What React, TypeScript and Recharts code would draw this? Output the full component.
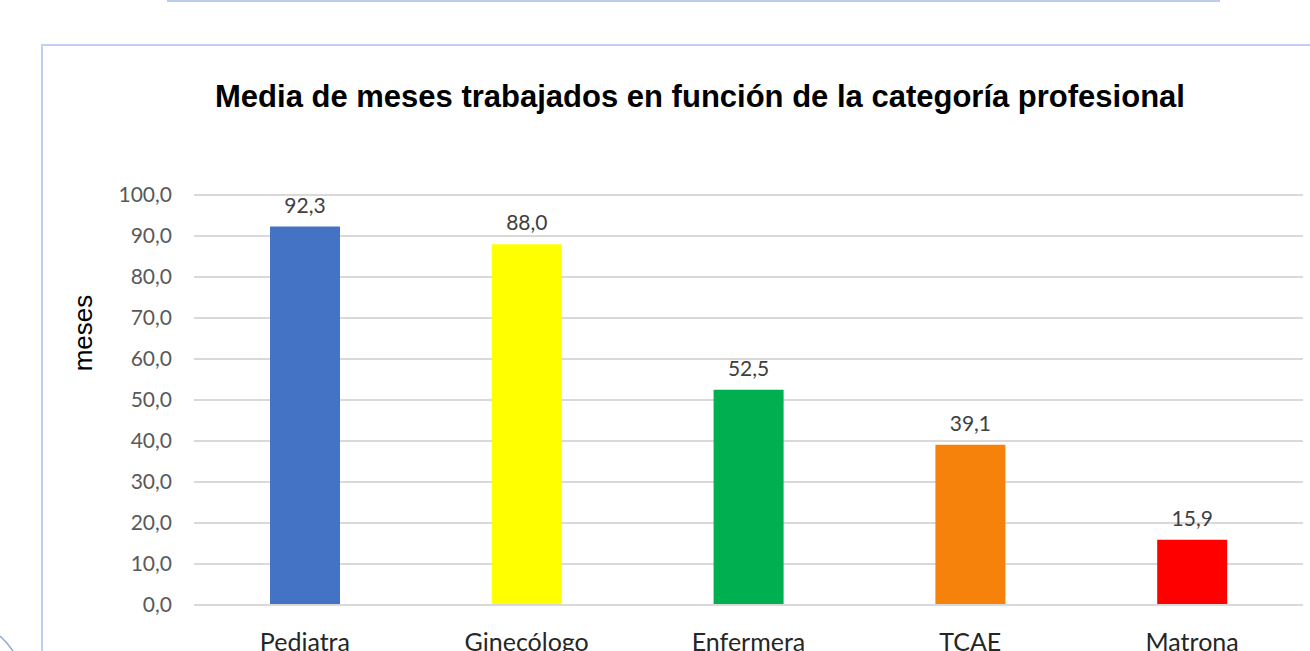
import { Bar, BarChart, CartesianGrid, Cell, LabelList, XAxis, YAxis } from 'recharts';

const categories = ['Pediatra', 'Ginecólogo', 'Enfermera', 'TCAE', 'Matrona'];
const values = [92.3, 88.0, 52.5, 39.1, 15.9];
const colors = ['#4472C4', '#FFFF00', '#00B050', '#F7820B', '#FF0000'];
const yTicks = [0, 10, 20, 30, 40, 50, 60, 70, 80, 90, 100];

const title = 'Media de meses trabajados en función de la categoría profesional';
const yLabel = 'meses';

const data = categories.map((name, i) => ({ name, value: values[i], color: colors[i] }));

const fmt = (v: number) => v.toFixed(1).replace('.', ',');
const bodyFont = 'Lato, "Open Sans", sans-serif';

export default function App() {
  return (
    <div style={{ position: 'absolute', left: 0, top: 0, width: 1310, height: 651, overflow: 'hidden', background: '#fff' }}>
      {/* frame above and chart box */}
      <div style={{ position: 'absolute', left: 167, top: 0, width: 1053, height: 2, background: '#bccdec' }} />
      <div
        style={{
          position: 'absolute',
          left: 41,
          top: 44,
          width: 1320,
          height: 700,
          borderLeft: '2px solid #c0d0ee',
          borderTop: '2px solid #c0d0ee',
        }}
      />
      <svg style={{ position: 'absolute', left: 0, top: 620 }} width={30} height={31}>
        <path d="M0,16 Q7,22 13,31" fill="none" stroke="#8ea6d6" strokeWidth={1.5} />
      </svg>

      <div
        style={{
          position: 'absolute',
          left: 0,
          width: 1400,
          top: 79,
          textAlign: 'center',
          font: 'bold 31px "Liberation Sans", Arial, sans-serif',
          color: '#000',
          whiteSpace: 'nowrap',
        }}
      >
        {title}
      </div>
      <div
        style={{
          position: 'absolute',
          left: 83,
          top: 333,
          transform: 'translate(-50%, -50%) rotate(-90deg)',
          font: '26px "Liberation Sans", Arial, sans-serif',
          color: '#000',
          whiteSpace: 'nowrap',
        }}
      >
        {yLabel}
      </div>

      <div style={{ position: 'absolute', left: 0, top: 0 }}>
        <BarChart width={1310} height={651} data={data} margin={{ top: 195, right: 7, bottom: 0, left: 0 }}>
          <CartesianGrid vertical={false} stroke="#d9d9d9" strokeWidth={2} />
          <XAxis
            dataKey="name"
            height={46}
            axisLine={{ stroke: '#d9d9d9', strokeWidth: 2 }}
            tickLine={false}
            tickSize={0}
            tickMargin={28}
            tick={{ fill: '#262626', fontSize: 25, fontFamily: bodyFont }}
            interval={0}
          />
          <YAxis
            width={194}
            domain={[0, 100]}
            ticks={yTicks}
            tickFormatter={fmt}
            axisLine={false}
            tickLine={false}
            tickSize={0}
            tickMargin={22}
            tick={{ fill: '#595959', fontSize: 21, fontFamily: bodyFont }}
          />
          <Bar dataKey="value" barSize={70} isAnimationActive={false}>
            {data.map((d) => (
              <Cell key={d.name} fill={d.color} />
            ))}
            <LabelList
              dataKey="value"
              position="top"
              offset={14}
              formatter={(v: any) => fmt(Number(v))}
              fill="#404040"
              fontSize={21}
              fontFamily={bodyFont}
            />
          </Bar>
        </BarChart>
      </div>
    </div>
  );
}
